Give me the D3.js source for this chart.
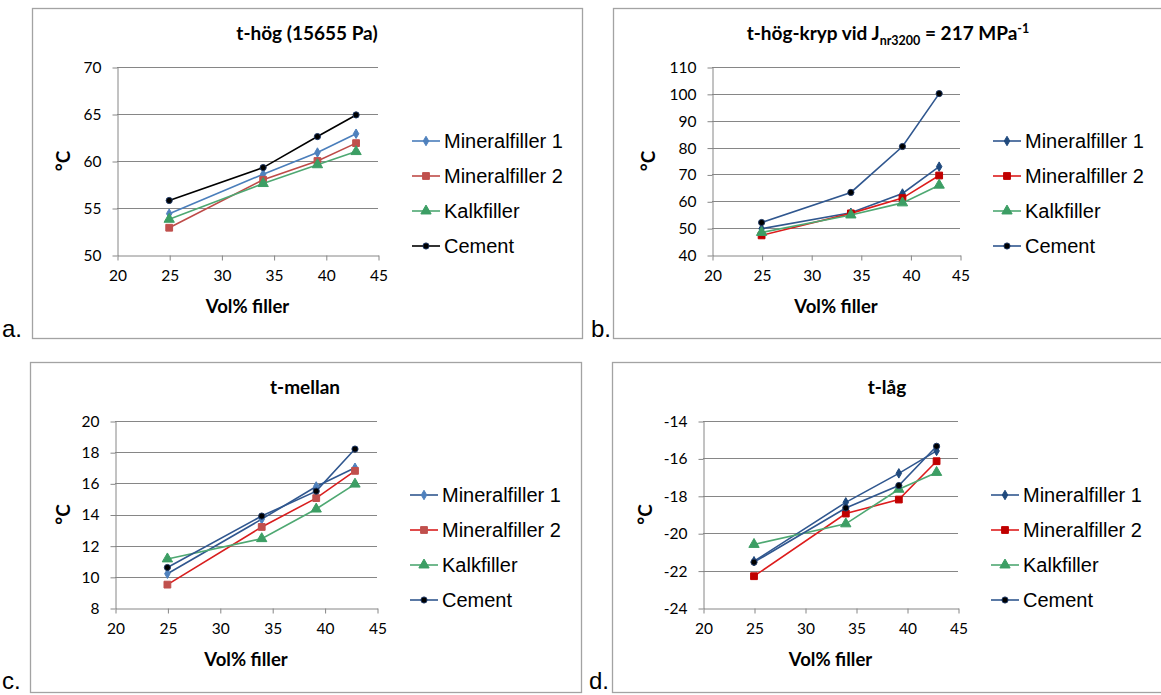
<!DOCTYPE html>
<html>
<head>
<meta charset="utf-8">
<script src="https://cdn.jsdelivr.net/npm/d3@7"></script>
<style>
body { margin: 0; background: #fff; }
</style>
</head>
<body>
<svg width="1161" height="695"></svg>
<script>
// shared x data
const xValues = [25, 34, 39.2, 42.9]
const xTicks = [20, 25, 30, 35, 40, 45]
const seriesNames = ["Mineralfiller 1", "Mineralfiller 2", "Kalkfiller", "Cement"]

// a. t-hög (15655 Pa)
const hogValues = [
	[54.4, 58.6, 60.9, 62.9],
	[52.9, 58.0, 60.0, 61.9],
	[53.8, 57.6, 59.6, 61.0],
	[55.8, 59.3, 62.6, 64.9]
]
const hogTicks = [50, 55, 60, 65, 70]

// b. t-hög-kryp
const krypValues = [
	[49.8, 55.7, 62.9, 72.9],
	[47.3, 55.5, 61.2, 69.6],
	[48.4, 54.9, 59.4, 66.0],
	[52.1, 63.3, 80.4, 100.1]
]
const krypTicks = [40, 50, 60, 70, 80, 90, 100, 110]

// c. t-mellan
const mellanValues = [
	[10.2, 13.7, 15.8, 17.0],
	[9.5, 13.2, 15.05, 16.8],
	[11.15, 12.45, 14.35, 15.95],
	[10.6, 13.9, 15.5, 18.2]
]
const mellanTicks = [8, 10, 12, 14, 16, 18, 20]

// d. t-låg
const lagValues = [
	[-21.5, -18.35, -16.8, -15.6],
	[-22.3, -18.95, -18.2, -16.15],
	[-20.6, -19.5, -17.65, -16.75],
	[-21.55, -18.65, -17.45, -15.35]
]
const lagTicks = [-24, -22, -20, -18, -16, -14]

const titles = ["t-hög (15655 Pa)", "", "t-mellan", "t-låg"]

const green = {line: "#4ea872", fill: "#3c9e64", shape: d3.symbolTriangle, size: 46}

const stylesA = [
	{line: "#4a7ebb", fill: "#4f81bd", shape: d3.symbolDiamond, size: 26},
	{line: "#be4b48", fill: "#c0504d", shape: d3.symbolSquare, size: 46},
	green,
	{line: "#000000", fill: "#000000", stroke: "#1f3864", shape: d3.symbolCircle, size: 30}
]
const stylesB = [
	{line: "#30578f", fill: "#1f497d", shape: d3.symbolDiamond, size: 26},
	{line: "#dd1c1c", fill: "#c00000", shape: d3.symbolSquare, size: 46},
	green,
	{line: "#30578f", fill: "#000000", stroke: "#1f3864", shape: d3.symbolCircle, size: 30}
]
const stylesC = [
	{line: "#30578f", fill: "#4f81bd", shape: d3.symbolDiamond, size: 26},
	{line: "#d81e1e", fill: "#c0504d", shape: d3.symbolSquare, size: 46},
	green,
	{line: "#30578f", fill: "#000000", stroke: "#1f3864", shape: d3.symbolCircle, size: 30}
]

const panels = [
	{label: "a.", values: hogValues, yTicks: hogTicks, styles: stylesA,
	 frame: [32, 8, 582, 338], plot: [117, 67, 378, 255], labelPos: [2, 337],
	 titleX: 307, titleY: 40, yLabelX: 63, legendX: 412, legendY: 141},
	{label: "b.", values: krypValues, yTicks: krypTicks, styles: stylesB,
	 frame: [613, 8, 1168, 338], plot: [712, 67, 960, 255], labelPos: [591, 337],
	 titleX: 888, titleY: 40, yLabelX: 648, legendX: 993, legendY: 141},
	{label: "c.", values: mellanValues, yTicks: mellanTicks, styles: stylesC,
	 frame: [30, 362, 581, 692], plot: [115, 421, 377, 608], labelPos: [2, 689],
	 titleX: 305, titleY: 394, yLabelX: 63, legendX: 410, legendY: 495},
	{label: "d.", values: lagValues, yTicks: lagTicks, styles: stylesB,
	 frame: [612, 362, 1168, 692], plot: [703, 421, 958, 608], labelPos: [589, 689],
	 titleX: 887, titleY: 394, yLabelX: 645, legendX: 991, legendY: 495}
]

const svg = d3.select("svg")
const axisFont = "Lato, 'Noto Sans', sans-serif"
const legendFont = "'Liberation Sans', Arial, sans-serif"
const gridColor = "#868686"

function drawPanel(p, i) {
	const [fx0, fy0, fx1, fy1] = p.frame
	const [px0, py0, px1, py1] = p.plot
	const g = svg.append("g")

	g.append("rect")
		.attr("x", fx0 + 0.5).attr("y", fy0 + 0.5)
		.attr("width", fx1 - fx0).attr("height", fy1 - fy0)
		.attr("fill", "none").attr("stroke", "#a3a3a3").attr("stroke-width", 1.3)

	svg.append("text")
		.attr("x", p.labelPos[0]).attr("y", p.labelPos[1])
		.style("font-family", legendFont).style("font-size", "24px")
		.text(p.label)

	var xScale = d3.scaleLinear().domain([20, 45]).range([px0, px1])
	var yScale = d3.scaleLinear().domain(d3.extent(p.yTicks)).range([py1, py0])

	// gridlines
	g.selectAll("line.grid").data(p.yTicks.slice(1)).enter().append("line")
		.attr("x1", px0).attr("x2", px1)
		.attr("y1", d => Math.round(yScale(d)) + 0.5).attr("y2", d => Math.round(yScale(d)) + 0.5)
		.attr("stroke", gridColor).attr("stroke-width", 1)

	var yAxis = g.append("g")
		.attr("transform", "translate(" + (Math.round(px0) + 0.5) + ",0.5)")
		.call(d3.axisLeft(yScale).tickValues(p.yTicks).tickFormat(d => String(d))
			.tickSizeOuter(0).tickSizeInner(5).tickPadding(11))
	var xAxis = g.append("g")
		.attr("transform", "translate(0.5," + (Math.round(py1) + 0.5) + ")")
		.call(d3.axisBottom(xScale).tickValues(xTicks).tickFormat(d => String(d))
			.tickSizeOuter(0).tickSizeInner(5).tickPadding(9))

	;[yAxis, xAxis].forEach(ax => {
		ax.select(".domain").attr("stroke", gridColor)
		ax.selectAll(".tick line").attr("stroke", gridColor)
		ax.selectAll("text").style("font-family", axisFont).style("font-size", "15.5px").attr("fill", "#000")
	})

	// series
	p.values.forEach((vals, s) => {
		const st = p.styles[s]
		const pts = vals.map((v, k) => [xScale(xValues[k]), yScale(v)])
		g.append("path")
			.attr("d", d3.line()(pts))
			.attr("fill", "none").attr("stroke", st.line).attr("stroke-width", 1.6)
		g.selectAll(null).data(pts).enter().append("path")
			.attr("transform", d => "translate(" + d[0] + "," + d[1] + ")")
			.attr("d", d3.symbol().type(st.shape).size(st.size))
			.attr("fill", st.fill)
			.attr("stroke", st.stroke || st.fill).attr("stroke-width", 1)
	})

	// title
	var title = g.append("text")
		.attr("x", p.titleX).attr("y", p.titleY)
		.attr("text-anchor", "middle")
		.style("font-family", axisFont).style("font-size", "19px").style("font-weight", "bold")
	if (i == 1) {
		title.append("tspan").text("t-hög-kryp vid J")
		title.append("tspan").attr("dy", 5).style("font-size", "12.5px").text("nr3200")
		title.append("tspan").attr("dy", -5).text(" = 217 MPa")
		title.append("tspan").attr("dy", -7).style("font-size", "12.5px").text("-1")
	} else {
		title.text(titles[i])
	}

	// axis titles
	g.append("text")
		.attr("transform", "translate(" + (p.yLabelX + 7) + "," + ((py0 + py1) / 2) + ") rotate(-90)")
		.attr("text-anchor", "middle")
		.style("font-family", axisFont).style("font-size", "19px").style("font-weight", "bold")
		.text("°C")
	g.append("text")
		.attr("x", (px0 + px1) / 2).attr("y", py1 + 58)
		.attr("text-anchor", "middle")
		.style("font-family", axisFont).style("font-size", "18.5px").style("font-weight", "bold")
		.text("Vol% filler")

	// legend
	seriesNames.forEach((name, s) => {
		const st = p.styles[s]
		const ly = p.legendY + s * 35
		g.append("line")
			.attr("x1", p.legendX).attr("x2", p.legendX + 28)
			.attr("y1", ly).attr("y2", ly)
			.attr("stroke", st.line).attr("stroke-width", 1.6)
		g.append("path")
			.attr("transform", "translate(" + (p.legendX + 14) + "," + ly + ")")
			.attr("d", d3.symbol().type(st.shape).size(st.size))
			.attr("fill", st.fill).attr("stroke", st.stroke || st.fill).attr("stroke-width", 1)
		g.append("text")
			.attr("x", p.legendX + 32).attr("y", ly)
			.attr("dominant-baseline", "central")
			.style("font-family", legendFont).style("font-size", "20px")
			.text(name)
	})
}

panels.forEach((p, i) => drawPanel(p, i))
</script>
</body>
</html>
